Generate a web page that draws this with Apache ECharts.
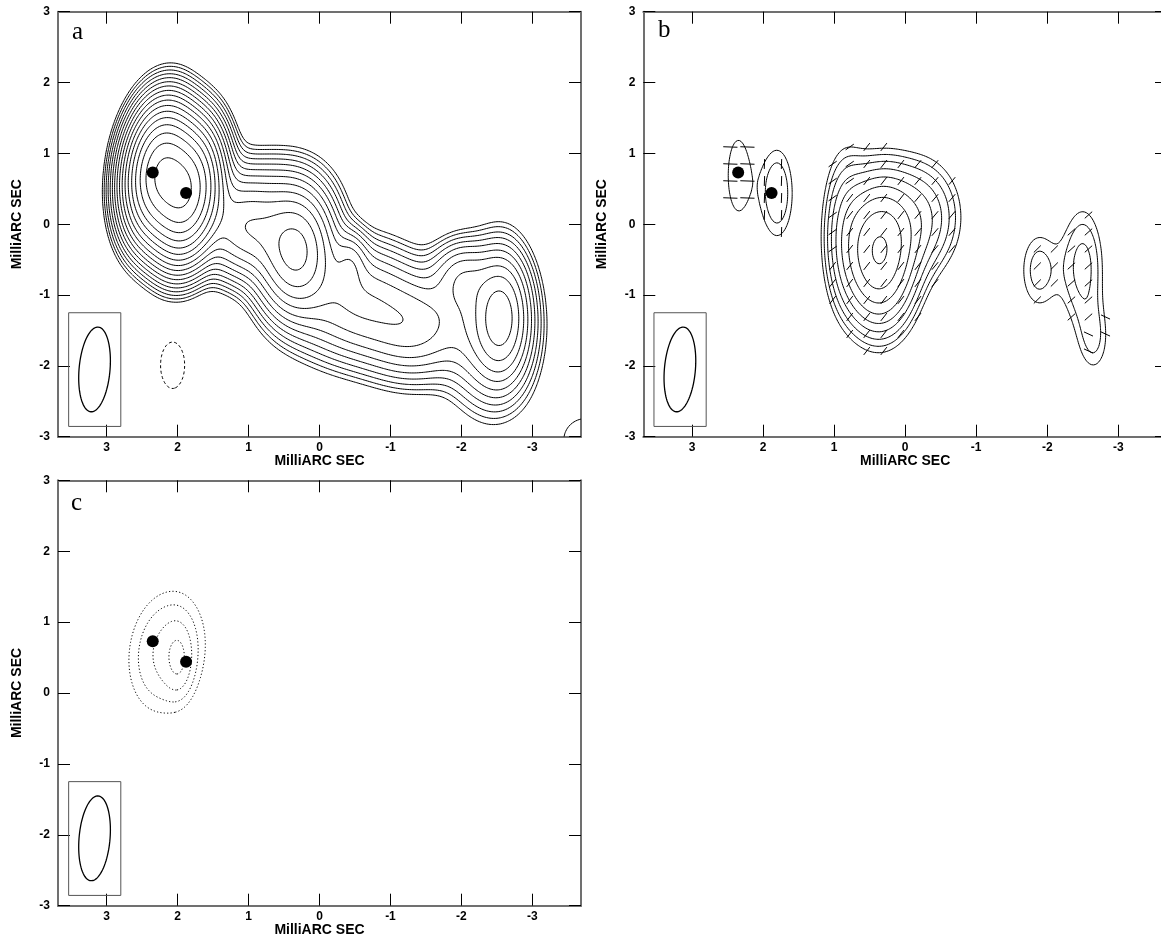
<!DOCTYPE html>
<html><head><meta charset="utf-8">
<script src="https://cdn.jsdelivr.net/npm/echarts@6/dist/echarts.min.js"></script>
<style>html,body{margin:0;padding:0;background:#fff}#c{width:1161px;height:943px}</style>
</head><body><div id="c"></div>
<script>
// ---------------- DATA (milliarcsec) ----------------
const X_TICKS = [3, 2, 1, 0, -1, -2, -3];
const Y_TICKS = [-3, -2, -1, 0, 1, 2, 3];
const X_MIN = -3.685, X_MAX = 3.685, Y_MIN = -3, Y_MAX = 3;
const AXIS_NAME = 'MilliARC SEC';
const PANEL_LETTERS = ['a', 'b', 'c'];

// the two marked positions (filled dots)
const dotX = [2.35, 1.88];
const dotY = [0.73, 0.44];

// restoring beam
const beamCx = 3.17, beamCy = -2.05, beamMaj = 0.60, beamMin = 0.218, beamPA = -5;
const beamBoxX = [3.535, 2.80];
const beamBoxY = [-1.25, -2.855];

// panel a: total-intensity source components
const aX   = [2.25, 1.88, 0.80, 1.05, 0.34, -0.44, -0.50, -1.35, -2.00, -2.57, -2.40, 2.07, -3.75];
const aY   = [0.73, 0.44, 0.45, -0.05, -0.37, -0.53, -1.10, -1.45, -0.75, -1.28, -1.50, -1.99, -3.05];
const aAmp = [233, 233, 4, 28, 50, 8, 15, 12, 8, 20, 10, -1.6, 1.38];
const aSx  = [0.24, 0.24, 0.50, 0.33, 0.30, 0.14, 0.50, 0.45, 0.25, 0.22, 0.35, 0.175, 0.38];
const aSy  = [0.47, 0.47, 0.35, 0.38, 0.48, 0.25, 0.45, 0.42, 0.30, 0.50, 0.60, 0.34, 0.38];
const aRot = [7, 7, 0, 0, 0, 0, 0, 0, 0, 0, 0, 0, 0];
const aLevels = [1, 1.41, 2, 2.83, 4, 5.66, 8, 11.3, 16, 22.6, 32, 45.3, 64, 90.5, 128, 181, 256];
const aNegLevels = [-1];

// panel b: polarized-intensity components and their EVPA (deg, N through E)
const bX    = [2.35, 1.80, 0.37, -0.20, 0.85, -1.88, -2.50, -2.66];
const bY    = [0.69, 0.44, -0.40, 0.10, 0.00, -0.65, -0.60, -1.65];
const bAmp  = [1.35, 1.97, 16, 4, 2.5, 1.65, 2.3, 1.3];
const bSx   = [0.18, 0.18, 0.30, 0.35, 0.20, 0.21, 0.21, 0.17];
const bSy   = [0.63, 0.514, 0.60, 0.50, 0.70, 0.45, 0.60, 0.38];
const bRot  = [0, 0, 0, 0, 0, 0, 0, 0];
const bEvpa = [88, -2, -38, -40, -55, -45, -48, 65];
const bTickLen = [0.20, 0.14, 0.14, 0.14, 0.14, 0.14, 0.14, 0.14];
const bLevels = [1, 1.41, 2, 2.83, 4, 5.66, 8, 11.3, 16];

// panel c components
const cX   = [1.98, 2.15];
const cY   = [0.45, 0.58];
const cAmp = [1.2, 2.2];
const cSx  = [0.13, 0.42];
const cSy  = [0.33, 0.68];
const cRot = [0, 8];
const cLevels = [1, 1.41, 2, 2.83];

// ---------------- model evaluation + contouring ----------------
function comps(X, Y, A, SX, SY, R) {
  return X.map((x, k) => ({x, y: Y[k], a: A[k], sx: SX[k], sy: SY[k],
    c: Math.cos(R[k] * Math.PI / 180), s: Math.sin(R[k] * Math.PI / 180)}));
}
function evalAt(C, x, y) {
  let s = 0;
  for (const p of C) {
    const dx = x - p.x, dy = y - p.y;
    const u = dx * p.c + dy * p.s, w = -dx * p.s + dy * p.c;
    s += p.a * Math.exp(-0.5 * (u * u / (p.sx * p.sx) + w * w / (p.sy * p.sy)));
  }
  return s;
}
function makeGrid(C) {
  const nx = 300, ny = 245;
  const xs = [], ys = [];
  for (let i = 0; i < nx; i++) xs.push(X_MIN + (X_MAX - X_MIN) * i / (nx - 1));
  for (let j = 0; j < ny; j++) ys.push(Y_MIN + (Y_MAX - Y_MIN) * j / (ny - 1));
  const v = new Float64Array(nx * ny);
  for (let j = 0; j < ny; j++) for (let i = 0; i < nx; i++) v[j * nx + i] = evalAt(C, xs[i], ys[j]);
  return {xs, ys, v, nx, ny};
}
function contour(g, L) {
  const {xs, ys, v, nx, ny} = g;
  const H = (nx - 1) * ny;
  const pts = new Map();
  const sa = [], sb = [];
  const hp = (i, j) => { const id = j * (nx - 1) + i; if (!pts.has(id)) { const a = v[j * nx + i], b = v[j * nx + i + 1]; const t = (L - a) / (b - a); pts.set(id, [xs[i] + t * (xs[i + 1] - xs[i]), ys[j]]); } return id; };
  const vp = (i, j) => { const id = H + j * nx + i; if (!pts.has(id)) { const a = v[j * nx + i], b = v[(j + 1) * nx + i]; const t = (L - a) / (b - a); pts.set(id, [xs[i], ys[j] + t * (ys[j + 1] - ys[j])]); } return id; };
  const add = (p, q) => { sa.push(p); sb.push(q); };
  for (let j = 0; j < ny - 1; j++) for (let i = 0; i < nx - 1; i++) {
    const a = v[j * nx + i], b = v[j * nx + i + 1], c = v[(j + 1) * nx + i + 1], d = v[(j + 1) * nx + i];
    const k = (a > L ? 1 : 0) | (b > L ? 2 : 0) | (c > L ? 4 : 0) | (d > L ? 8 : 0);
    if (k === 0 || k === 15) continue;
    const e0 = () => hp(i, j), e1 = () => vp(i + 1, j), e2 = () => hp(i, j + 1), e3 = () => vp(i, j);
    const m = (a + b + c + d) / 4;
    switch (k) {
      case 1: case 14: add(e3(), e0()); break;
      case 2: case 13: add(e0(), e1()); break;
      case 3: case 12: add(e3(), e1()); break;
      case 4: case 11: add(e1(), e2()); break;
      case 6: case 9: add(e0(), e2()); break;
      case 7: case 8: add(e2(), e3()); break;
      case 5: if (m > L) { add(e0(), e1()); add(e2(), e3()); } else { add(e3(), e0()); add(e1(), e2()); } break;
      case 10: if (m > L) { add(e3(), e0()); add(e1(), e2()); } else { add(e0(), e1()); add(e2(), e3()); } break;
    }
  }
  const adj = new Map();
  const push = (id, s) => { if (!adj.has(id)) adj.set(id, []); adj.get(id).push(s); };
  for (let s = 0; s < sa.length; s++) { push(sa[s], s); push(sb[s], s); }
  const used = new Uint8Array(sa.length);
  const lines = [];
  const walk = (start, chain, front) => {
    let end = start;
    while (true) {
      let nxt = -1;
      for (const t of adj.get(end)) if (!used[t]) { nxt = t; break; }
      if (nxt < 0) break;
      used[nxt] = 1;
      const other = sa[nxt] === end ? sb[nxt] : sa[nxt];
      if (front) chain.unshift(other); else chain.push(other);
      end = other;
    }
  };
  for (let s = 0; s < sa.length; s++) {
    if (used[s]) continue;
    used[s] = 1;
    const chain = [sa[s], sb[s]];
    walk(sb[s], chain, false);
    if (chain[chain.length - 1] !== chain[0]) walk(sa[s], chain, true);
    lines.push(chain.map(id => pts.get(id)));
  }
  return lines;
}
function contourSet(C, levels) {
  const g = makeGrid(C);
  let out = [];
  for (const L of levels) out = out.concat(contour(g, L));
  return out.map(c => ({coords: c}));
}

const aC = comps(aX, aY, aAmp, aSx, aSy, aRot);
const bC = comps(bX, bY, bAmp, bSx, bSy, bRot);
const cC = comps(cX, cY, cAmp, cSx, cSy, cRot);
const aPos = contourSet(aC, aLevels);
const aNeg = contourSet(aC, aNegLevels);
const bPos = contourSet(bC, bLevels);
const cPos = contourSet(cC, cLevels);

// polarization vectors sampled on a regular grid
function evpaTicks() {
  const out = [];
  for (let xi = 2.46 + 0.24 * 2; xi > X_MIN; xi -= 0.24) {
    for (let yj = 1.09 + 0.24 * 3; yj > Y_MIN; yj -= 0.24) {
      let tot = 0, best = -1, bv = 0;
      bC.forEach((p, k) => {
        const dx = xi - p.x, dy = yj - p.y;
        const val = p.a * Math.exp(-0.5 * (dx * dx / (p.sx * p.sx) + dy * dy / (p.sy * p.sy)));
        tot += val; if (val > bv) { bv = val; best = k; }
      });
      if (tot < 0.9) continue;
      const chi = bEvpa[best] * Math.PI / 180, h = bTickLen[best] / 2;
      const ux = Math.sin(chi) * h, uy = Math.cos(chi) * h;
      out.push({coords: [[xi - ux, yj - uy], [xi + ux, yj + uy]]});
    }
  }
  return out;
}
const bTicks = evpaTicks();

function beamShape() {
  const pa = beamPA * Math.PI / 180;
  const mj = [Math.sin(pa), Math.cos(pa)], mn = [Math.cos(pa), -Math.sin(pa)];
  const c = [];
  for (let t = 0; t <= 360; t += 4) {
    const r = t * Math.PI / 180, u = beamMaj * Math.cos(r), w = beamMin * Math.sin(r);
    c.push([beamCx + u * mj[0] + w * mn[0], beamCy + u * mj[1] + w * mn[1]]);
  }
  return c;
}
const beamCoords = beamShape();
const boxCoords = [[beamBoxX[0], beamBoxY[0]], [beamBoxX[1], beamBoxY[0]], [beamBoxX[1], beamBoxY[1]], [beamBoxX[0], beamBoxY[1]], [beamBoxX[0], beamBoxY[0]]];

// ---------------- chart ----------------
const FONT = '"Liberation Sans", Arial, Helvetica, sans-serif';
const grids = [
  {left: 58, top: 11.7, width: 523, height: 425},
  {left: 643.3, top: 11.7, width: 523.7, height: 425},
  {left: 58, top: 480.3, width: 523, height: 425.4}
].map(g => Object.assign({outerBoundsMode: 'none', containLabel: false}, g));

const xAxes = [], yAxes = [];
const axisLine = {show: true, onZero: false, lineStyle: {color: '#707070', width: 2}};
grids.forEach((g, gi) => {
  ['bottom', 'top'].forEach(pos => {
    const main = pos === 'bottom';
    xAxes.push({type: 'value', gridIndex: gi, position: pos, min: X_MIN, max: X_MAX, inverse: true,
      axisLine, splitLine: {show: false},
      axisTick: {show: true, inside: true, length: 12, customValues: X_TICKS, lineStyle: {color: '#000', width: 1}},
      axisLabel: {show: main, customValues: X_TICKS, margin: 5, color: '#000', fontFamily: FONT, fontWeight: 'bold', fontSize: 12},
      name: main ? AXIS_NAME : '', nameLocation: 'middle', nameGap: 17.5,
      nameTextStyle: {color: '#000', fontFamily: FONT, fontWeight: 'bold', fontSize: 14}});
  });
  ['left', 'right'].forEach(pos => {
    const main = pos === 'left';
    yAxes.push({type: 'value', gridIndex: gi, position: pos, min: Y_MIN, max: Y_MAX, interval: 1,
      axisLine, splitLine: {show: false},
      axisTick: {show: true, inside: true, length: 12, customValues: Y_TICKS, lineStyle: {color: '#000', width: 1}},
      axisLabel: {show: main, customValues: Y_TICKS, margin: 8, color: '#000', fontFamily: FONT, fontWeight: 'bold', fontSize: 12},
      name: main ? AXIS_NAME : '', nameLocation: 'middle', nameGap: 34, nameRotate: 90,
      nameTextStyle: {color: '#000', fontFamily: FONT, fontWeight: 'bold', fontSize: 14}});
  });
});

const series = [];
function linesSeries(gi, data, style) {
  series.push({type: 'lines', coordinateSystem: 'cartesian2d', xAxisIndex: gi * 2, yAxisIndex: gi * 2,
    polyline: true, silent: true, animation: false, data,
    lineStyle: Object.assign({color: '#000', width: 1, opacity: 1}, style)});
}
linesSeries(0, aPos, {});
linesSeries(0, aNeg, {type: [3, 2.5]});
linesSeries(1, bPos, {});
linesSeries(1, bTicks, {width: 1});
linesSeries(2, cPos, {type: [1.2, 2.2], width: 1});
[0, 1, 2].forEach(gi => {
  linesSeries(gi, [{coords: boxCoords}], {color: '#555', width: 1});
  linesSeries(gi, [{coords: beamCoords}], {color: '#000', width: 1.3});
  series.push({type: 'scatter', xAxisIndex: gi * 2, yAxisIndex: gi * 2, symbol: 'circle', symbolSize: 12,
    itemStyle: {color: '#000', opacity: 1}, silent: true, animation: false, z: 10,
    data: dotX.map((x, k) => [x, dotY[k]])});
});

const letterPos = [[72, 34], [658, 32], [71, 505]];
const graphic = PANEL_LETTERS.map((t, i) => ({type: 'text', left: letterPos[i][0], top: letterPos[i][1] - 14,
  style: {text: t, font: '25px "Liberation Serif", "DejaVu Serif", serif', fill: '#000'}}));

const chart = echarts.init(document.getElementById('c'), null, {renderer: 'canvas'});
chart.setOption({animation: false, backgroundColor: '#fff', grid: grids, xAxis: xAxes, yAxis: yAxes, series, graphic});
</script></body></html>
